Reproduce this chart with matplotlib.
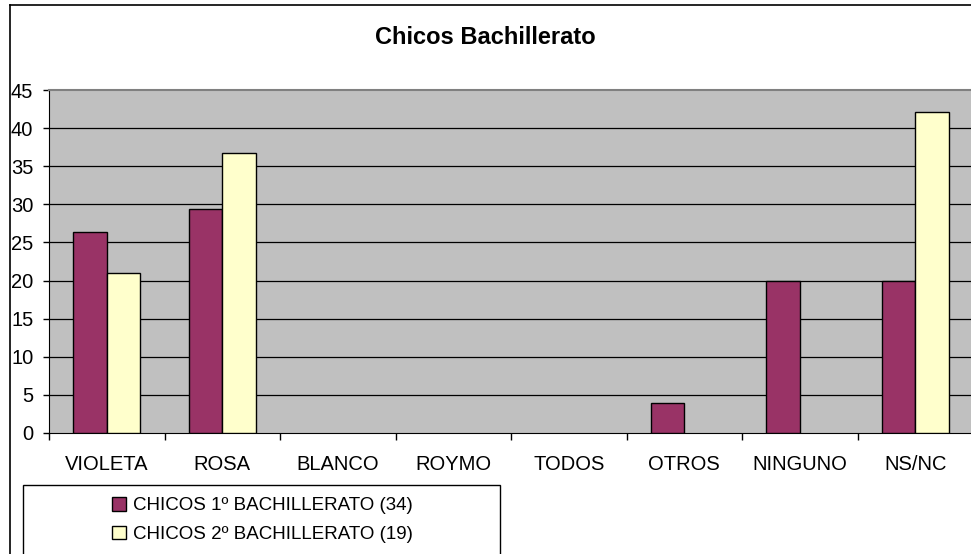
import matplotlib
matplotlib.use("Agg")
import matplotlib.pyplot as plt
from matplotlib.patches import Rectangle
from matplotlib.lines import Line2D
import numpy as np

plt.rcParams['font.family'] = ['Liberation Sans', 'DejaVu Sans']

categorias = ["VIOLETA", "ROSA", "BLANCO", "ROYMO", "TODOS", "OTROS", "NINGUNO", "NS/NC"]
primero = [26.4, 29.4, 0, 0, 0, 3.9, 19.9, 19.9]
segundo = [21.0, 36.8, 0, 0, 0, 0, 0, 42.1]
etiquetas = ["CHICOS 1º BACHILLERATO (34)", "CHICOS 2º BACHILLERATO (19)"]
yticks = [0, 5, 10, 15, 20, 25, 30, 35, 40, 45]

W, H = 971, 554
fig = plt.figure(figsize=(W / 100, H / 100), dpi=100)
ax = fig.add_axes([49 / W, 1 - 433 / H, 924 / W, (433 - 90) / H])
ax.set_facecolor("#C0C0C0")

x = np.arange(len(categorias))
w = 0.29
b1 = ax.bar(x - w / 2, primero, w, color="#993366", edgecolor="black", linewidth=1, zorder=3, label=etiquetas[0])
b2 = ax.bar(x + w / 2, segundo, w, color="#FFFFCC", edgecolor="black", linewidth=1, zorder=3, label=etiquetas[1])
# empty bars: no outline (as in the original)
for bars in (b1, b2):
    for p in bars.patches:
        if p.get_height() == 0:
            p.set_visible(False)

ax.set_xlim(-0.5, len(categorias) - 0.5)
ax.set_ylim(0, 45)
ax.set_yticks(yticks)
ax.tick_params(axis='y', labelsize=14.5, length=4.3, width=1, pad=7, direction='out')
for v in yticks[1:-1]:
    ax.axhline(v, color="black", linewidth=0.9, zorder=1)

ax.set_xticks(x)
ax.set_xticklabels(categorias)
ax.set_xticks(np.arange(-0.5, len(categorias)), minor=True)
ax.tick_params(axis='x', which='major', length=0, labelsize=14.5, pad=16)
ax.tick_params(axis='x', which='minor', length=5, width=1, direction='out')

ax.spines['top'].set_color("#808080")
ax.spines['top'].set_linewidth(1.5)
ax.spines['right'].set_visible(False)
ax.spines['left'].set_color("black")
ax.spines['bottom'].set_color("black")

fig.text(0.5, 1 - 38 / H, "Chicos Bachillerato", ha="center", va="center",
         fontsize=17, fontweight="bold")

# figure border (left and top)
fig.add_artist(Line2D([10 / W, 10 / W], [0, 1 - 5 / H], transform=fig.transFigure, color="black", linewidth=1.2))
fig.add_artist(Line2D([10 / W, 1], [1 - 5 / H, 1 - 5 / H], transform=fig.transFigure, color="black", linewidth=1.2))

# legend box
fig.add_artist(Rectangle((23 / W, -0.05), 477 / W, (554 - 485) / H + 0.05, transform=fig.transFigure,
                         fill=False, edgecolor="black", linewidth=1))
fig.legend(handles=[b1, b2], loc="upper left", bbox_to_anchor=(103 / W, 1 - 488 / H),
           frameon=False, fontsize=13.5, handlelength=0.7, handleheight=0.7,
           handletextpad=0.4, labelspacing=0.6, borderpad=0)

fig.savefig("out.png", dpi=100)
